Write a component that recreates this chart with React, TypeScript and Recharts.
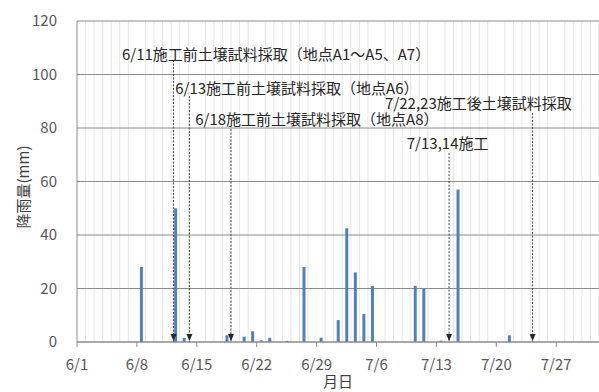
import { ComposedChart, Bar, XAxis, YAxis, CartesianGrid, ReferenceLine, ReferenceDot, Label } from "recharts";

// daily rainfall (mm), dates with no bar had no rain
const rainDates = ["6/8", "6/12", "6/13", "6/18", "6/20", "6/21", "6/22", "6/23", "6/25", "6/27", "6/29", "7/1", "7/2", "7/3", "7/4", "7/5", "7/10", "7/11", "7/13", "7/15", "7/21"];
const rainMm = [28, 50, 1.5, 2.5, 2, 4, 0.6, 1.6, 0.4, 28, 1.6, 8.2, 42.5, 26, 10.5, 21, 21, 20, 0.5, 57, 2.5];

const xTickLabels = ["6/1", "6/8", "6/15", "6/22", "6/29", "7/6", "7/13", "7/20", "7/27"];
const yTicks = [0, 20, 40, 60, 80, 100, 120];

const noteTexts = [
  "6/11施工前土壌試料採取（地点A1～A5、A7）",
  "6/13施工前土壌試料採取（地点A6）",
  "6/18施工前土壌試料採取（地点A8）",
  "7/22,23施工後土壌試料採取",
  "7/13,14施工",
];

// where the callouts sit, in chart units (days after 6/1, mm)
const noteLayout = [
  { textX: 5.26, textY: 108, arrowX: 11.28, arrowTop: 105.4 },
  { textX: 11.48, textY: 95, arrowX: 13.14, arrowTop: 92 },
  { textX: 13.82, textY: 83.7, arrowX: 17.99, arrowTop: 79.6 },
  { textX: 36.0, textY: 89.5, arrowX: 53.24, arrowTop: 85.6 },
  { textX: 38.54, textY: 74.5, arrowX: 43.48, arrowTop: 70.6 },
];

function dayIndex(md: string) {
  const [m, d] = md.split("/").map(Number);
  return m === 6 ? d - 1 : 29 + d;
}

// Excel date axis puts each column in the middle of its day
const data = rainDates.map((d, i) => ({ day: dayIndex(d) + 0.5, rain: rainMm[i] }));
const xTicks = xTickLabels.map(dayIndex);
const dailyLines = Array.from({ length: 62 }, (_, i) => i);
const tickText: Record<number, string> = Object.fromEntries(xTicks.map((t, i) => [t, xTickLabels[i]]));

const AXIS = "#8c8c8c";
const INK = "#595959";

function Arrowhead(props: { cx?: number; cy?: number }) {
  const { cx = 0, cy = 0 } = props;
  return <path d={`M${cx - 3},${cy - 8} L${cx + 3},${cy - 8} L${cx},${cy - 1} Z`} fill="#262626" />;
}

function NoteText(text: string) {
  return (props: { cx?: number; cy?: number }) => (
    <text x={props.cx} y={props.cy} fontSize={15} fill="#262626" dominantBaseline="central">
      {text}
    </text>
  );
}

export default function App() {
  return (
    <div style={{ position: "absolute", left: 0, top: 0, width: 599, height: 392, background: "#fff", fontFamily: "'Noto Sans CJK JP', sans-serif" }}>
      <ComposedChart width={599} height={392} data={data} margin={{ top: 21, right: 0, bottom: 0, left: 0 }}>
        <CartesianGrid horizontal={false} verticalValues={dailyLines} stroke="#e6e6e6" />
        <CartesianGrid vertical={false} stroke={AXIS} />
        <XAxis
          dataKey="day"
          type="number"
          domain={[0, 61]}
          ticks={xTicks}
          tickFormatter={(v: number) => tickText[v] ?? ""}
          height={50}
          stroke={AXIS}
          tickSize={5}
          tickMargin={12}
          tick={{ fill: INK, fontSize: 15 }}
          allowDataOverflow
        >
          <Label
            content={(p: any) => (
              <text
                x={p.viewBox.x + p.viewBox.width / 2}
                y={380}
                textAnchor="middle"
                dominantBaseline="central"
                fontSize={15}
                fill="#404040"
              >
                月日
              </text>
            )}
          />
        </XAxis>
        <YAxis
          domain={[0, 120]}
          ticks={yTicks}
          width={77}
          stroke={AXIS}
          tickLine={false}
          tickSize={0}
          tickMargin={20}
          tick={{ fill: INK, fontSize: 15 }}
        >
          <Label
            content={() => (
              <text transform="translate(22,187) rotate(-90)" textAnchor="middle" dominantBaseline="central" fontSize={15} fill="#404040">
                降雨量(mm)
              </text>
            )}
          />
        </YAxis>
        <Bar dataKey="rain" fill="#4F81BD" barSize={3} isAnimationActive={false} />
        {noteLayout.map((n, i) => (
          <ReferenceLine
            key={`l${i}`}
            segment={[{ x: n.arrowX, y: n.arrowTop }, { x: n.arrowX, y: 0 }]}
            stroke="#404040"
            strokeDasharray="2 1.5"
            ifOverflow="visible"
          />
        ))}
        {noteLayout.map((n, i) => (
          <ReferenceDot key={`a${i}`} x={n.arrowX} y={0} r={3} shape={Arrowhead} ifOverflow="visible" />
        ))}
        {noteLayout.map((n, i) => (
          <ReferenceDot key={`t${i}`} x={n.textX} y={n.textY} r={1} shape={NoteText(noteTexts[i])} ifOverflow="visible" />
        ))}
      </ComposedChart>
    </div>
  );
}
